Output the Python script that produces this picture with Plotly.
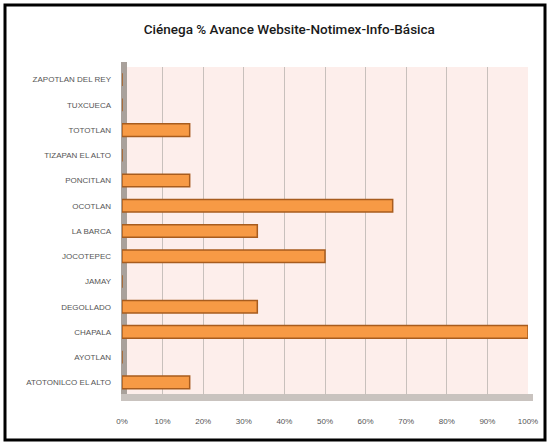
import plotly.graph_objects as go

categories = ["ATOTONILCO EL ALTO", "AYOTLAN", "CHAPALA", "DEGOLLADO", "JAMAY",
              "JOCOTEPEC", "LA BARCA", "OCOTLAN", "PONCITLAN", "TIZAPAN EL ALTO",
              "TOTOTLAN", "TUXCUECA", "ZAPOTLAN DEL REY"]
values = [16.67, 0, 100, 33.33, 0, 50, 33.33, 66.67, 16.67, 0, 16.67, 0, 0]
tick_vals = [0, 10, 20, 30, 40, 50, 60, 70, 80, 90, 100]
tick_text = [f"{v}%" for v in tick_vals]
title = "Ciénega % Avance Website-Notimex-Info-Básica"

W, H = 549, 443
L, R, T, B = 122, 21, 67, 48
pw, ph = W - L - R, H - T - B

def px2x(px):
    return (px - L) / pw

def px2y(py):
    return (H - B - py) / ph

fig = go.Figure()
fig.add_trace(go.Bar(
    y=categories, x=values, orientation="h",
    marker=dict(color="#F79A45", line=dict(color="#A85C1E", width=1.5)),
    width=0.5,
))

shapes = [
    # outer frame
    dict(type="rect", xref="paper", yref="paper",
         x0=px2x(5), x1=px2x(545), y0=px2y(440), y1=px2y(5),
         line=dict(color="black", width=3), fillcolor="rgba(0,0,0,0)", layer="below"),
    # left wall
    dict(type="rect", xref="paper", yref="paper",
         x0=px2x(121), x1=px2x(127), y0=px2y(400), y1=px2y(62),
         line=dict(width=0), fillcolor="#A9A19B", layer="below"),
    # floor
    dict(type="rect", xref="paper", yref="paper",
         x0=px2x(121), x1=px2x(533), y0=px2y(401), y1=px2y(394),
         line=dict(width=0), fillcolor="#C9C3BF", layer="below"),
]

fig.update_layout(
    template="none",
    width=W, height=H,
    margin=dict(l=L, r=R, t=T, b=B, autoexpand=False),
    paper_bgcolor="white",
    plot_bgcolor="#FDEEEB",
    showlegend=False,
    shapes=shapes,
    title=dict(text=title, x=0.527, xanchor="center", y=0.935, yanchor="middle",
               font=dict(family="Roboto", size=13.5, color="#1a1a1a", weight=500)),
    xaxis=dict(range=[0, 100], tickvals=tick_vals, ticktext=tick_text, automargin=False,
               showgrid=True, gridcolor="#C8C0BC", gridwidth=1, zeroline=False,
               ticks="", ticklabelstandoff=20, showline=False,
               tickfont=dict(family="Liberation Sans Narrow, Liberation Sans", size=8, color="#555555")),
    yaxis=dict(range=[-0.5, 12.5], showgrid=False, zeroline=False, ticks="", automargin=False,
               ticklabelstandoff=10, showline=False,
               tickfont=dict(family="Liberation Sans Narrow, Liberation Sans", size=8, color="#555555")),
)

fig.write_html("out.html", config={"displayModeBar": False},
               post_script="document.body.style.margin='0';document.body.style.overflow='hidden';")
